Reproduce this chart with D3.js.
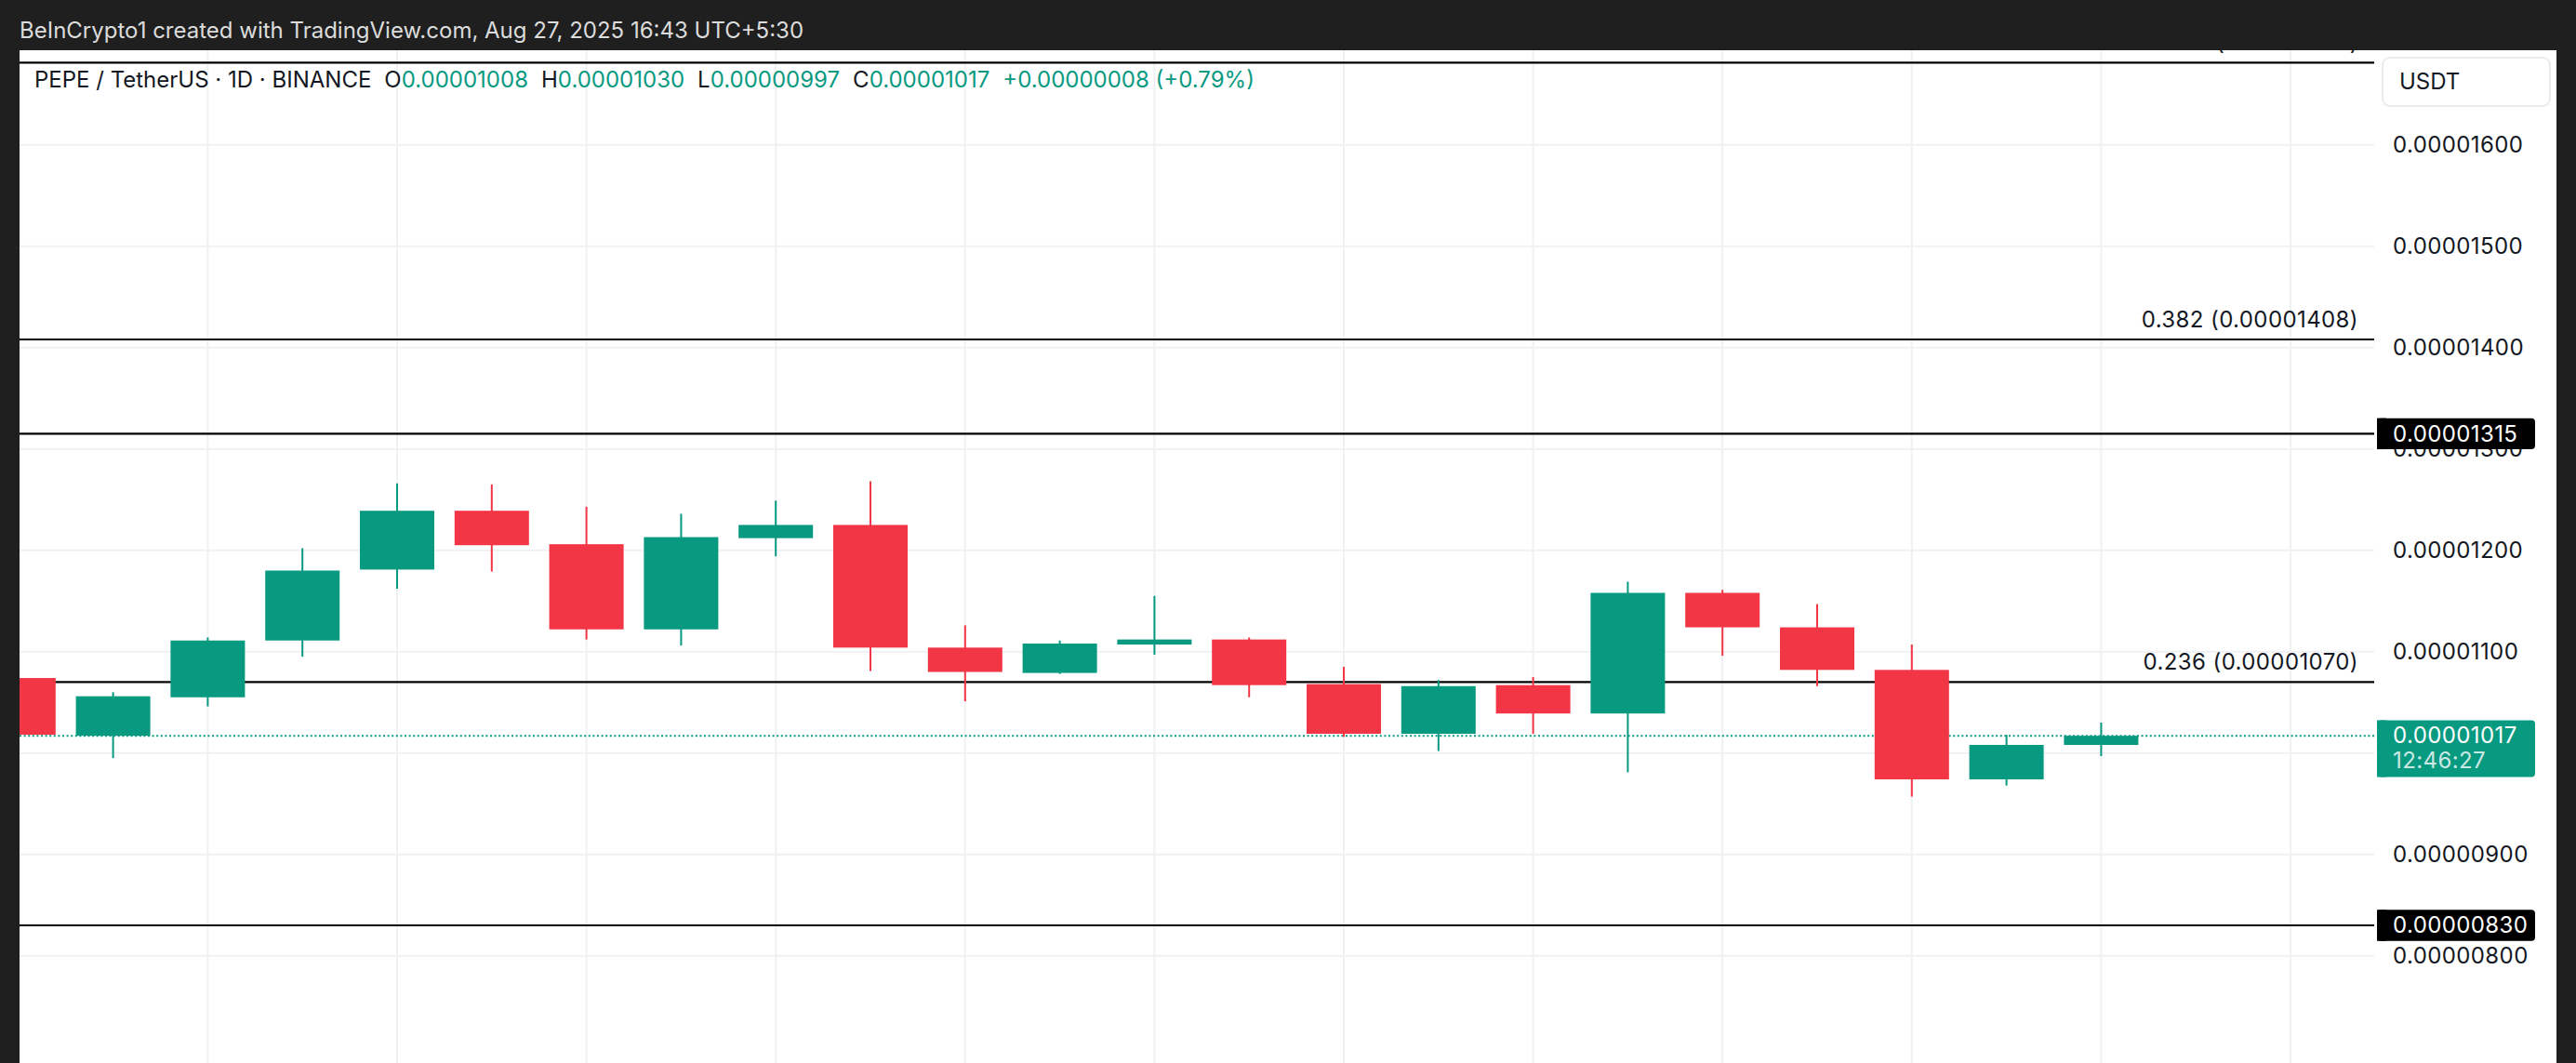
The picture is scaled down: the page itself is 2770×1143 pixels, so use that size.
<!DOCTYPE html>
<html>
<head>
<meta charset="utf-8">
<script src="https://cdn.jsdelivr.net/npm/d3@7"></script>
<style>
  html, body { margin: 0; padding: 0; background: #1f1f1f; }
  svg { display: block; }
</style>
</head>
<body>
<div id="chart"></div>
<script>
// daily candles, PEPE/USDT, Aug 5 -> Aug 27 2025
const dates = ['Aug 05','Aug 06','Aug 07','Aug 08','Aug 09','Aug 10','Aug 11','Aug 12','Aug 13','Aug 14','Aug 15','Aug 16',
  'Aug 17','Aug 18','Aug 19','Aug 20','Aug 21','Aug 22','Aug 23','Aug 24','Aug 25','Aug 26','Aug 27'];
const opens  = [0.00001074,0.00001017,0.00001055,0.00001111,0.00001181,0.00001239,0.00001206,0.00001122,0.00001212,0.00001225,0.00001104,0.00001079,
  0.00001107,0.00001112,0.00001068,0.00001019,0.00001067,0.00001039,0.00001158,0.00001124,0.00001082,0.00000974,0.00001008];
const highs  = [0.00001080,0.00001060,0.00001114,0.00001202,0.00001266,0.00001265,0.00001243,0.00001236,0.00001249,0.00001268,0.00001126,0.00001111,
  0.00001155,0.00001114,0.00001085,0.00001072,0.00001075,0.00001169,0.00001161,0.00001147,0.00001107,0.00001018,0.00001030];
const lows   = [0.00000998,0.00000995,0.00001046,0.00001095,0.00001162,0.00001179,0.00001112,0.00001106,0.00001194,0.00001081,0.00001051,0.00001078,
  0.00001097,0.00001055,0.00001016,0.00001002,0.00001019,0.00000981,0.00001096,0.00001066,0.00000957,0.00000968,0.00000997];
const closes = [0.00001018,0.00001056,0.00001111,0.00001180,0.00001239,0.00001205,0.00001122,0.00001213,0.00001225,0.00001104,0.00001080,0.00001108,
  0.00001112,0.00001067,0.00001019,0.00001066,0.00001039,0.00001158,0.00001124,0.00001082,0.00000974,0.00001008,0.00001017];

const priceTicks = [0.000008, 0.000009, 0.00001, 0.000011, 0.000012, 0.000013, 0.000014, 0.000015, 0.000016, 0.000017];
// fib retracement levels drawn on the chart
const fibLevels = [0.5, 0.382, 0.236];
const fibPrices = [0.00001681, 0.00001408, 0.00001070];
// plain horizontal levels with black axis labels
const keyLevels = [0.00001315, 0.00000830];

const lastPrice = 0.00001017;
const countdown = '12:46:27';
const headerText = 'BeInCrypto1 created with TradingView.com, Aug 27, 2025 16:43 UTC+5:30';
const legendParts = [
  { t: 'PEPE / TetherUS · 1D · BINANCE', k: 'title' },
  { t: 'O', k: 'lbl' }, { t: '0.00001008', k: 'val' },
  { t: 'H', k: 'lbl' }, { t: '0.00001030', k: 'val' },
  { t: 'L', k: 'lbl' }, { t: '0.00000997', k: 'val' },
  { t: 'C', k: 'lbl' }, { t: '0.00001017', k: 'val' },
  { t: '+0.00000008 (+0.79%)', k: 'val' }
];

const W = 2770, H = 1143;
const plot = { left: 21, right: 2553, top: 54, bottom: 1143 };
const GREEN = '#089981', RED = '#f23645';
const FONT = 'Inter, Roboto, sans-serif';
const FS = 24;
const NUM_LS = 0.4; // digits in the original are a bit wider than Inter's

const svg = d3.select('#chart').append('svg').attr('width', W).attr('height', H);

// background
svg.append('rect').attr('width', W).attr('height', H).attr('fill', '#1f1f1f');
svg.append('rect').attr('x', plot.left).attr('y', plot.top)
  .attr('width', 2749 - plot.left).attr('height', H - plot.top).attr('fill', '#fff');

const x = d3.scaleLinear().domain([0, dates.length - 1]).range([19.8, 2259.4]);
const y = d3.scaleLinear().domain([0.00001, 0.000013]).range([809.7, 482.7]);
const bodyW = 80;
const fmt = d3.format('.8f');

svg.append('clipPath').attr('id', 'plotclip').append('rect')
  .attr('x', plot.left).attr('y', plot.top)
  .attr('width', plot.right - plot.left).attr('height', plot.bottom - plot.top);

const g = svg.append('g').attr('clip-path', 'url(#plotclip)');

// grid
g.append('g').selectAll('line')
  .data(priceTicks)
  .join('line')
  .attr('x1', plot.left).attr('x2', plot.right)
  .attr('y1', d => y(d)).attr('y2', d => y(d))
  .attr('stroke', '#f0f1f3').attr('stroke-width', 2);

g.append('g').selectAll('line')
  .data(d3.range(0, 26, 2))
  .join('line')
  .attr('x1', d => x(d)).attr('x2', d => x(d))
  .attr('y1', plot.top).attr('y2', plot.bottom)
  .attr('stroke', '#f0f1f3').attr('stroke-width', 2);

// level lines
g.append('g').selectAll('line')
  .data(fibPrices.concat(keyLevels))
  .join('line')
  .attr('x1', plot.left).attr('x2', plot.right)
  .attr('y1', d => y(d)).attr('y2', d => y(d))
  .attr('stroke', '#000').attr('stroke-width', 2.2);

g.append('g').selectAll('text')
  .data(fibLevels)
  .join('text')
  .attr('x', 2536)
  .attr('y', (d, i) => y(fibPrices[i]) - 13)
  .attr('text-anchor', 'end')
  .attr('font-family', FONT).attr('font-size', FS)
  .attr('letter-spacing', NUM_LS)
  .attr('fill', '#131722')
  .text((d, i) => `${d} (${fmt(fibPrices[i])})`);

// last price dotted line
g.append('line')
  .attr('x1', plot.left).attr('x2', plot.right)
  .attr('y1', y(lastPrice)).attr('y2', y(lastPrice))
  .attr('stroke', GREEN).attr('stroke-width', 2)
  .attr('stroke-dasharray', '2 2.6');

// candles
const candles = g.append('g').selectAll('g')
  .data(dates.map((d, i) => ({ i, o: opens[i], h: highs[i], l: lows[i], c: closes[i] })))
  .join('g')
  .attr('fill', d => d.c >= d.o ? GREEN : RED)
  .attr('stroke', d => d.c >= d.o ? GREEN : RED);

candles.append('line')
  .attr('x1', d => x(d.i)).attr('x2', d => x(d.i))
  .attr('y1', d => y(d.h)).attr('y2', d => y(d.l))
  .attr('stroke-width', 2);

candles.append('rect')
  .attr('x', d => x(d.i) - bodyW / 2)
  .attr('width', bodyW)
  .attr('y', d => y(Math.max(d.o, d.c)))
  .attr('height', d => Math.max(2, Math.abs(y(d.o) - y(d.c))))
  .attr('stroke', 'none');

// price axis (labels hidden under the last-price box are left out)
const axis = svg.append('g');
axis.selectAll('text')
  .data(priceTicks.filter(d => y(d) > 120 && y(d) < H - 20 && Math.abs(y(d) - y(lastPrice)) > 40))
  .join('text')
  .attr('x', 2573).attr('y', d => y(d)).attr('dy', '0.35em')
  .attr('font-family', FONT).attr('font-size', FS).attr('letter-spacing', NUM_LS)
  .attr('fill', '#131722')
  .text(d => fmt(d));

function priceBox(v, fill, h) {
  const top = y(v) - 16.7;
  const bg = axis.append('g');
  bg.append('rect').attr('x', 2556).attr('y', top).attr('width', 170).attr('height', h)
    .attr('rx', 4).attr('fill', fill);
  bg.append('rect').attr('x', 2556).attr('y', top).attr('width', 10).attr('height', h).attr('fill', fill);
  return top;
}

keyLevels.forEach(v => {
  priceBox(v, '#000', 33.4);
  axis.append('text')
    .attr('x', 2573).attr('y', y(v)).attr('dy', '0.35em')
    .attr('font-family', FONT).attr('font-size', FS).attr('letter-spacing', NUM_LS).attr('fill', '#fff')
    .text(fmt(v));
});

const lpTop = priceBox(lastPrice, GREEN, 61);
axis.append('text')
  .attr('x', 2573).attr('y', lpTop + 25)
  .attr('font-family', FONT).attr('font-size', FS).attr('letter-spacing', NUM_LS).attr('fill', '#fff')
  .text(fmt(lastPrice));
axis.append('text')
  .attr('x', 2573).attr('y', lpTop + 52)
  .attr('font-family', FONT).attr('font-size', FS).attr('letter-spacing', NUM_LS)
  .attr('fill', '#fff').attr('fill-opacity', 0.8)
  .text(countdown);

// currency button
axis.append('rect')
  .attr('x', 2562).attr('y', 62).attr('width', 180).attr('height', 52).attr('rx', 8)
  .attr('fill', '#fff').attr('stroke', '#e3e5ea').attr('stroke-width', 1.5);
axis.append('text')
  .attr('x', 2580).attr('y', 96)
  .attr('font-family', FONT).attr('font-size', FS).attr('fill', '#131722')
  .text('USDT');

// legend line
const legend = svg.append('text')
  .attr('x', 37).attr('y', 94)
  .attr('font-family', FONT).attr('font-size', FS);
legend.selectAll('tspan')
  .data(legendParts)
  .join('tspan')
  .attr('dx', (d, i) => (i > 0 && d.k !== 'val') || (d.k === 'val' && legendParts[i - 1].k === 'val') ? 14 : 0)
  .attr('fill', d => d.k === 'val' ? GREEN : '#131722')
  .text(d => d.t);

// header bar on top
svg.append('rect').attr('width', W).attr('height', plot.top).attr('fill', '#1f1f1f');
svg.append('text')
  .attr('x', 21).attr('y', 40.5)
  .attr('font-family', FONT).attr('font-size', FS)
  .attr('fill', '#dcdcdc')
  .text(headerText);
</script>
</body>
</html>
